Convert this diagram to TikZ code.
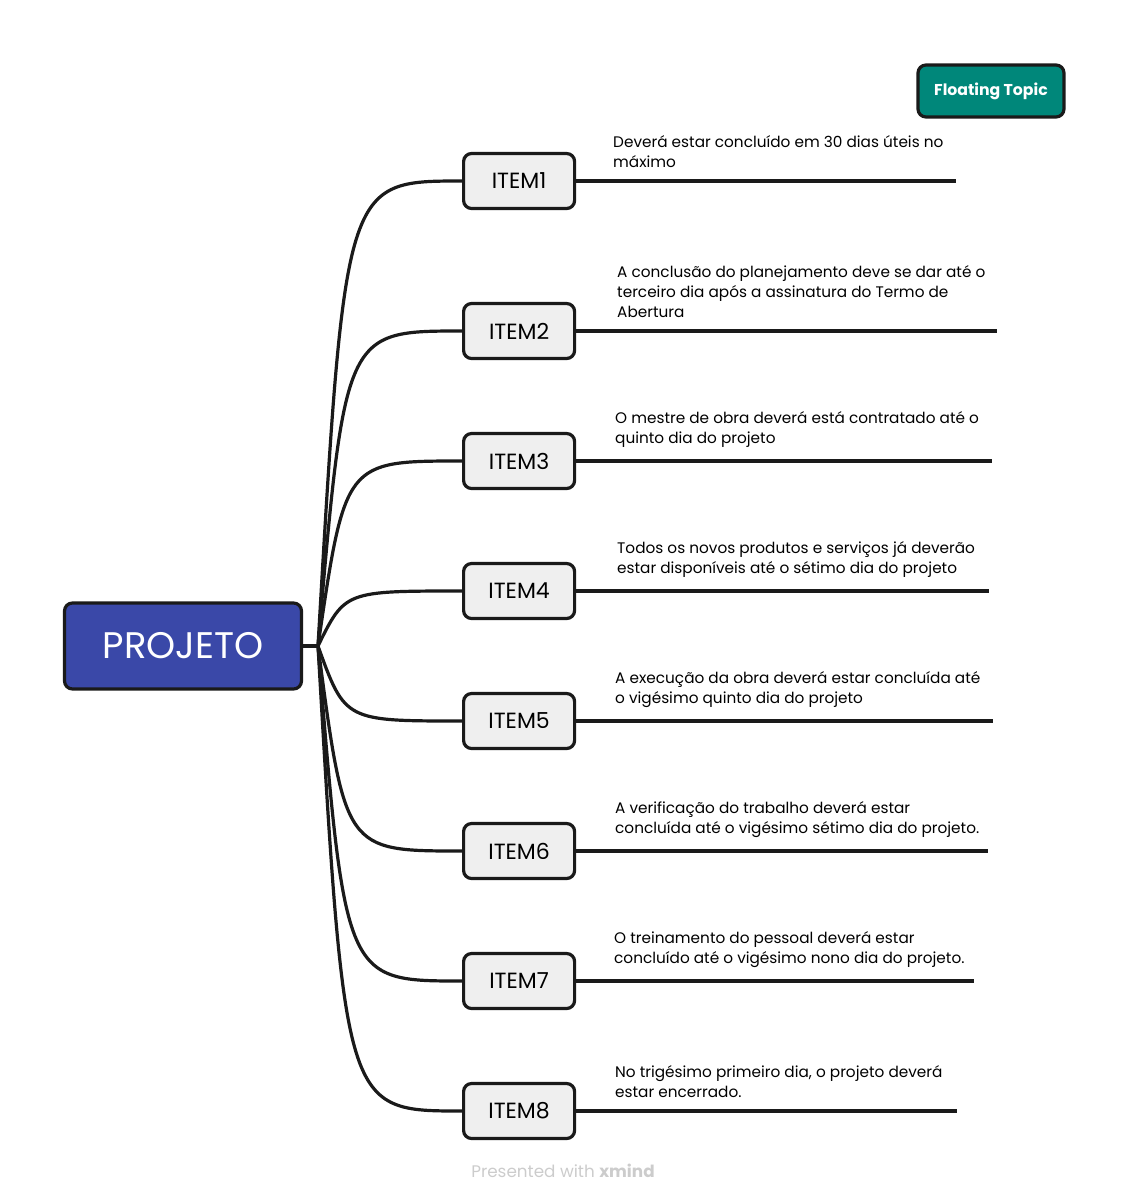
\documentclass[tikz,border=0pt]{standalone}
\usepackage{fontspec}
\setmainfont{Poppins}
\usepackage{tikz}

\definecolor{rootblue}{RGB}{58,72,168}
\definecolor{floatteal}{RGB}{0,135,122}
\definecolor{edgeblack}{RGB}{26,26,26}
\definecolor{itemgray}{RGB}{239,239,239}

\begin{document}
\begin{tikzpicture}[
		x=1pt, y=-1pt,
		every node/.style={inner sep=0pt},
		root/.style={rectangle, rounded corners=8pt, draw=edgeblack, line width=3.2pt, fill=rootblue,
			text=white, minimum width=237pt, minimum height=86pt, font=\fontsize{37}{42}\selectfont},
		item/.style={rectangle, rounded corners=8pt, draw=edgeblack, line width=3.2pt, fill=itemgray,
			minimum width=111pt, minimum height=55pt, anchor=west, font=\fontsize{22}{26}\selectfont},
		note/.style={anchor=south west, align=left, font=\fontsize{15.3}{20}\selectfont},
		branch/.style={draw=edgeblack, line width=3.2pt}
	]
  \useasboundingbox (0,0) rectangle (1128,1203);

  \node (root) [root] at (183,646) {PROJETO};
  \coordinate (hub) at (318,646);
  \node (float) [rectangle, rounded corners=8pt, draw=edgeblack, line width=3.2pt, fill=floatteal, text=white,
    minimum width=146pt, minimum height=52pt, font=\fontsize{15.7}{20}\bfseries\selectfont] at (991,91) {Floating Topic};

  \node (i1) [item] at (462,181) {ITEM1};
  \node (i2) [item] at (462,331) {ITEM2};
  \node (i3) [item] at (462,461) {ITEM3};
  \node (i4) [item] at (462,591) {ITEM4};
  \node (i5) [item] at (462,721) {ITEM5};
  \node (i6) [item] at (462,851) {ITEM6};
  \node (i7) [item] at (462,981) {ITEM7};
  \node (i8) [item] at (462,1111) {ITEM8};

  \coordinate (e1) at (956,181);
  \coordinate (e2) at (997,331);
  \coordinate (e3) at (992,461);
  \coordinate (e4) at (989,591);
  \coordinate (e5) at (993,721);
  \coordinate (e6) at (988,851);
  \coordinate (e7) at (974,981);
  \coordinate (e8) at (957,1111);

  \node (t1) [note] at (613,168) {Deverá estar concluído em 30 dias úteis no\\máximo};
  \node (t2) [note] at (617,318) {A conclusão do planejamento deve se dar até o\\terceiro dia após a assinatura do Termo de\\Abertura};
  \node (t3) [note] at (615,448) {O mestre de obra deverá está contratado até o\\quinto dia do projeto};
  \node (t4) [note] at (617,578) {Todos os novos produtos e serviços já deverão\\estar disponíveis até o sétimo dia do projeto};
  \node (t5) [note] at (615,708) {A execução da obra deverá estar concluída até\\o vigésimo quinto dia do projeto};
  \node (t6) [note] at (615,838) {A verificação do trabalho deverá estar\\concluída até o vigésimo sétimo dia do projeto.};
  \node (t7) [note] at (614,968) {O treinamento do pessoal deverá estar\\concluído até o vigésimo nono dia do projeto.};
  \node (t8) [note] at (615,1098) {No trigésimo primeiro dia, o projeto deverá\\estar encerrado.};

  \node (footer) [text=black!20, font=\fontsize{16.8}{20}\selectfont] at (563,1171) {Presented with \textbf{xmind}};

  \draw [branch] (root.east) -- (hub);
  \draw [branch] (hub) .. controls (345,181) .. (i1.west);
  \draw [branch] (hub) .. controls (345,331) .. (i2.west);
  \draw [branch] (hub) .. controls (345,461) .. (i3.west);
  \draw [branch] (hub) .. controls (345,591) .. (i4.west);
  \draw [branch] (hub) .. controls (345,721) .. (i5.west);
  \draw [branch] (hub) .. controls (345,851) .. (i6.west);
  \draw [branch] (hub) .. controls (345,981) .. (i7.west);
  \draw [branch] (hub) .. controls (345,1111) .. (i8.west);

  \draw [branch] (i1.east) -- (e1);
  \draw [branch] (i2.east) -- (e2);
  \draw [branch] (i3.east) -- (e3);
  \draw [branch] (i4.east) -- (e4);
  \draw [branch] (i5.east) -- (e5);
  \draw [branch] (i6.east) -- (e6);
  \draw [branch] (i7.east) -- (e7);
  \draw [branch] (i8.east) -- (e8);
\end{tikzpicture}
\end{document}
